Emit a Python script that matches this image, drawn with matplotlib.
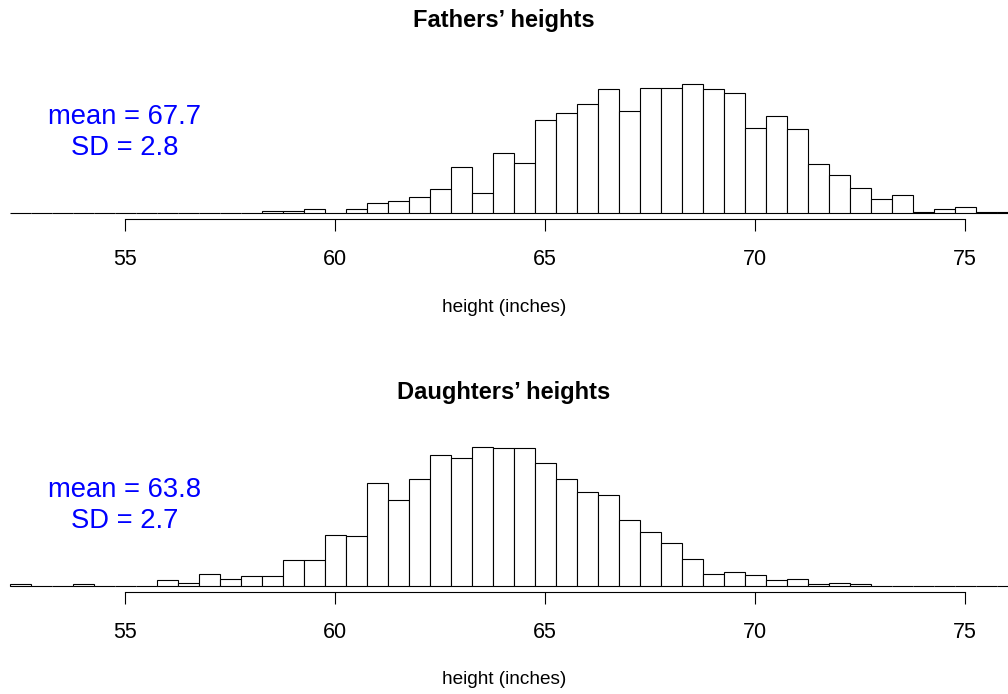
import numpy as np
import matplotlib
matplotlib.use("Agg")
import matplotlib.pyplot as plt

plt.rcParams['font.family'] = ['Liberation Sans', 'DejaVu Sans']

# histogram breaks: 0.5 inch bins starting at 52.25
bin_start = 52.25
bin_width = 0.5

fathers_counts = [0] * 12 + [
    2, 2, 3, 0, 3, 8, 9, 12, 18, 35,
    15, 45, 38, 70, 75, 82, 93, 77, 94, 94,
    97, 93, 90, 64, 73, 63, 37, 29, 19, 11,
    14, 1, 3, 5, 1, 1]
daughters_counts = [
    1, 0, 0, 1, 0, 0, 0, 4, 2, 9,
    5, 7, 7, 19, 19, 38, 37, 77, 64, 80,
    98, 96, 104, 103, 103, 92, 80, 70, 68, 49,
    40, 32, 20, 9, 10, 8, 4, 5, 1, 2,
    1] + [0] * 7

titles = ["Fathers\u2019 heights", "Daughters\u2019 heights"]
means = ["mean = 67.7", "mean = 63.8"]
sds = ["SD = 2.8", "SD = 2.7"]
xticks = [55, 60, 65, 70, 75]
xlabel = "height (inches)"

W, H = 1008, 694
fig = plt.figure(figsize=(W / 100, H / 100), dpi=100)

px_per_count = 1.333
ax_h = 150
panels = [
    dict(counts=fathers_counts, base=213.3, title_y=20, label_y=307, mean_y=117, sd_y=148),
    dict(counts=daughters_counts, base=585.7, title_y=392, label_y=679, mean_y=490, sd_y=521),
]

for i, p in enumerate(panels):
    ax = fig.add_axes([0, 1 - p['base'] / H, 1, ax_h / H])
    counts = np.array(p['counts'])
    edges = bin_start + bin_width * np.arange(len(counts))
    ax.bar(edges, counts, width=bin_width, align='edge', color='white',
           edgecolor='black', linewidth=0.8, clip_on=False)
    ax.set_xlim(55 - 125 / 42, 55 + (W - 125) / 42)
    ax.set_ylim(0, ax_h / px_per_count)
    for s in ['top', 'left', 'right']:
        ax.spines[s].set_visible(False)
    ax.spines['bottom'].set_position(('outward', 4.3))
    ax.spines['bottom'].set_bounds(55, 75)
    ax.spines['bottom'].set_linewidth(0.8)
    ax.set_yticks([])
    ax.set_xticks(xticks)
    ax.tick_params(axis='x', direction='out', length=8.6, width=0.8,
                   pad=13, labelsize=15.5)
    ax.patch.set_visible(False)

    fig.text(0.5, 1 - p['title_y'] / H, titles[i], ha='center', va='center',
             fontsize=17, fontweight='bold')
    fig.text(0.5, 1 - p['label_y'] / H, xlabel, ha='center', va='center',
             fontsize=13.7)
    fig.text(125 / W, 1 - p['mean_y'] / H, means[i], ha='center', va='center',
             fontsize=19.7, color='#0000ff')
    fig.text(125 / W, 1 - p['sd_y'] / H, sds[i], ha='center', va='center',
             fontsize=19.7, color='#0000ff')

fig.savefig("out.png", dpi=100)
